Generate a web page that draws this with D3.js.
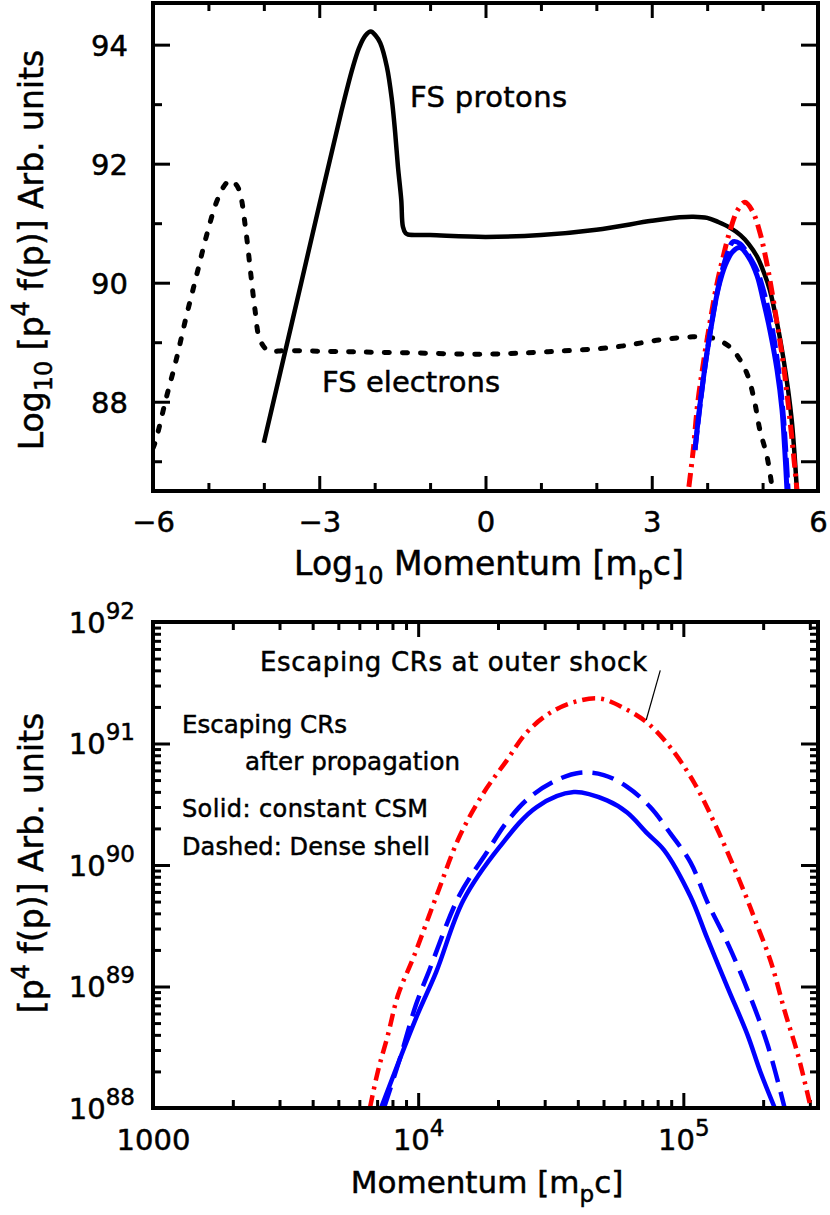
<!DOCTYPE html>
<html lang="en">
<head>
<meta charset="UTF-8">
<title>Escaping CR spectra</title>
<script src="https://d3js.org/d3.v7.min.js"></script>
<style>
  body { margin: 0; background: #fff; }
  svg { display: block; font-family: "DejaVu Sans", sans-serif; }
  svg text { stroke: #000; stroke-width: 0.5px; fill: #000; }
  .tick line { stroke: #000; stroke-width: 3px; }
  .frame { fill: none; stroke: #000; stroke-width: 4px; }
</style>
</head>
<body>
<svg width="830" height="1215"></svg>
<script>
// ---------- top panel: log10 p^4 f(p) against log10 p ----------
const protonLogP = [-4.0, -3.5, -3.0, -2.6, -2.4, -2.28, -2.17, -2.07, -1.98, -1.9, -1.78, -1.69, -1.63, -1.58, -1.52, -1.49, -1.44, -1.4,
  -1.0, 0.0, 1.0, 2.0, 3.0, 3.5, 3.75, 4.0, 4.2, 4.4, 4.6, 4.75, 4.9, 5.02, 5.13, 5.26, 5.37, 5.46, 5.53, 5.58, 5.62];
const protonLogF = [87.31, 89.3, 91.3, 92.88, 93.6, 93.95, 94.15, 94.22, 94.15, 94.03, 93.63, 93.08, 92.52, 91.95, 91.39, 90.94, 90.83, 90.81,
  90.8, 90.77, 90.8, 90.89, 91.04, 91.1, 91.11, 91.09, 91.02, 90.93, 90.8, 90.65, 90.44, 90.18, 89.88, 89.33, 88.76, 88.2, 87.65, 87.07, 86.5];

const electronLogP = [-6.0, -5.95, -5.77, -5.58, -5.4, -5.22, -5.04, -4.86, -4.72, -4.61, -4.5, -4.43, -4.32, -4.23, -4.16, -4.07, -3.92, -3.6,
  -2.5, -1.3, 0.0, 1.13, 2.34, 3.15, 3.74, 4.1, 4.41, 4.59, 4.74, 4.86, 4.95, 5.08, 5.17];
const electronLogF = [87.22, 87.35, 88.03, 88.71, 89.43, 90.1, 90.77, 91.34, 91.62, 91.72, 91.65, 91.51, 90.84, 90.1, 89.55, 89.04, 88.86, 88.86,
  88.84, 88.82, 88.8, 88.84, 88.92, 89.04, 89.09, 89.07, 88.92, 88.71, 88.42, 87.98, 87.53, 87.08, 86.57];

const escTopLogP = [3.67, 3.75, 3.83, 3.94, 4.05, 4.17, 4.29, 4.42, 4.55, 4.68, 4.82, 4.95, 5.05, 5.15, 5.26, 5.37, 5.46, 5.55, 5.62];
const escTopLogF = [86.57, 87.2, 87.98, 88.7, 89.33, 89.95, 90.44, 90.9, 91.22, 91.35, 91.2, 90.85, 90.45, 89.95, 89.33, 88.66, 87.98, 87.19, 86.52];

const propCsmTopLogP = [3.78, 3.87, 3.97, 4.08, 4.2, 4.33, 4.46, 4.59, 4.74, 4.9, 5.01, 5.13, 5.26, 5.35, 5.4, 5.44];
const propCsmTopLogF = [87.19, 87.95, 88.65, 89.3, 89.9, 90.3, 90.52, 90.59, 90.44, 90.12, 89.71, 89.21, 88.54, 87.87, 87.19, 86.52];

const propShellTopLogP = [3.78, 3.88, 3.98, 4.1, 4.23, 4.35, 4.47, 4.6, 4.72, 4.9, 5.05, 5.18, 5.3, 5.38, 5.43, 5.46];
const propShellTopLogF = [87.19, 88.0, 88.72, 89.43, 90.05, 90.45, 90.69, 90.65, 90.5, 90.2, 89.75, 89.2, 88.45, 87.7, 87.0, 86.52];

// ---------- bottom panel: p^4 f(p) against p ----------
const escP = [6577, 7047, 7691, 8395, 9661, 11700, 14290, 17620, 21530, 25640, 31330, 38640, 48530, 59840, 73110, 89330,
  110200, 134600, 170200, 185800, 213800, 241500, 270400, 302700];
const escF = [1.0e88, 2.0e88, 4.0e88, 8.5e88, 1.8e89, 5.5e89, 1.7e90, 3.9e90, 7.2e90, 1.23e91, 1.78e91, 2.19e91, 2.34e91, 1.95e91, 1.48e91, 9.3e90,
  4.7e90, 1.95e90, 5.9e89, 3.6e89, 1.6e89, 6.2e88, 2.75e88, 1.0e88];

const shellP = [7430, 8511, 9817, 10960, 14290, 18110, 21530, 26300, 33340, 40740, 50120, 61380, 75000, 89330, 106400, 123000, 147900, 177800, 208000, 241000];
const shellF = [1.0e88, 2.5e88, 7.1e88, 1.32e89, 5.6e89, 1.26e90, 2.24e90, 3.6e90, 5.0e90, 5.75e90, 5.5e90, 4.4e90, 3.0e90, 1.82e90, 1.05e90, 5.0e89, 2.2e89, 8.5e88, 3.3e88, 1.0e88];

const csmP = [7244, 9817, 11700, 14790, 20280, 27990, 38640, 51520, 61380, 73110, 84720, 106400, 123000, 146900, 174600, 195000, 221300];
const csmF = [1.0e88, 5.5e88, 1.32e89, 5.1e89, 1.41e90, 3.0e90, 3.98e90, 3.4e90, 2.7e90, 1.82e90, 1.32e90, 5.5e89, 2.5e89, 9.8e88, 4.0e88, 2.0e88, 1.0e88];

const pointerP = [81850, 72440];
const pointerF = [4.0e91, 1.56e91];

const topXMajor = [-6, -3, 0, 3, 6];
const topXMinor = [-5, -4, -2, -1, 1, 2, 4, 5];
const topYMajor = [88, 90, 92, 94];
const topYMinor = [87, 89, 91, 93];
const botXMajor = [1e3, 1e4, 1e5];
const botXMinor = [2e3, 3e3, 4e3, 5e3, 6e3, 7e3, 8e3, 9e3, 2e4, 3e4, 4e4, 5e4, 6e4, 7e4, 8e4, 9e4, 2e5, 3e5];
const botYMajor = [1e88, 1e89, 1e90, 1e91, 1e92];
const botYMinor = [];
[88, 89, 90, 91].forEach(e => { for (let k = 2; k <= 9; k++) botYMinor.push(+(k + "e" + e)); });

const svg = d3.select("svg");

// ================= top panel =================
const xT = d3.scaleLinear([-6, 6], [153, 818]);
const yT = d3.scaleLinear([86.5, 94.7], [491, 3]);

const minus = d => d < 0 ? "\u2212" + Math.abs(d) : String(d);

function cleanAxis(g) { g.select(".domain").remove(); }

// bottom x axis
svg.append("g").attr("transform", "translate(0,491)")
  .call(d3.axisBottom(xT).tickValues(topXMajor).tickSize(-15).tickPadding(0).tickFormat(minus))
  .call(cleanAxis)
  .call(g => g.selectAll("text").attr("y", 41).attr("dy", null).attr("font-size", 29).attr("font-family", "DejaVu Sans"));
svg.append("g").attr("transform", "translate(0,491)")
  .call(d3.axisBottom(xT).tickValues(topXMinor).tickSize(-8).tickFormat(""))
  .call(cleanAxis);
// top x axis
svg.append("g").attr("transform", "translate(0,3)")
  .call(d3.axisTop(xT).tickValues(topXMajor).tickSize(-15).tickFormat(""))
  .call(cleanAxis);
svg.append("g").attr("transform", "translate(0,3)")
  .call(d3.axisTop(xT).tickValues(topXMinor).tickSize(-8).tickFormat(""))
  .call(cleanAxis);
// left y axis
svg.append("g").attr("transform", "translate(153,0)")
  .call(d3.axisLeft(yT).tickValues(topYMajor).tickSize(-17).tickPadding(25).tickFormat(d => d))
  .call(cleanAxis)
  .call(g => g.selectAll("text").attr("font-size", 29).attr("font-family", "DejaVu Sans").attr("dy", "0.36em"));
svg.append("g").attr("transform", "translate(153,0)")
  .call(d3.axisLeft(yT).tickValues(topYMinor).tickSize(-9).tickFormat(""))
  .call(cleanAxis);
// right y axis
svg.append("g").attr("transform", "translate(818,0)")
  .call(d3.axisRight(yT).tickValues(topYMajor.concat(topYMinor)).tickSize(-17).tickFormat(""))
  .call(cleanAxis);

svg.append("clipPath").attr("id", "clipTop")
  .append("rect").attr("x", 153).attr("y", 3).attr("width", 665).attr("height", 488);

const lineT = d3.line().x(d => xT(d[0])).y(d => yT(d[1])).curve(d3.curveCatmullRom.alpha(0.5));
const gT = svg.append("g").attr("clip-path", "url(#clipTop)").attr("fill", "none");

gT.append("path").attr("d", lineT(d3.zip(electronLogP, electronLogF)))
  .attr("stroke", "#000").attr("stroke-width", 5).attr("stroke-linecap", "round").attr("stroke-dasharray", "5 13");
gT.append("path").attr("d", lineT(d3.zip(protonLogP, protonLogF)))
  .attr("stroke", "#000").attr("stroke-width", 4.5).attr("stroke-linejoin", "round");
gT.append("path").attr("d", lineT(d3.zip(escTopLogP, escTopLogF)))
  .attr("stroke", "#ff0000").attr("stroke-width", 5).attr("stroke-dasharray", "14 6 3 6");
gT.append("path").attr("d", lineT(d3.zip(propShellTopLogP, propShellTopLogF)))
  .attr("stroke", "#0000ff").attr("stroke-width", 5).attr("stroke-dasharray", "20 6");
gT.append("path").attr("d", lineT(d3.zip(propCsmTopLogP, propCsmTopLogF)))
  .attr("stroke", "#0000ff").attr("stroke-width", 5);

svg.append("rect").attr("class", "frame").attr("x", 153).attr("y", 3).attr("width", 665).attr("height", 488);

svg.append("text").attr("x", 410).attr("y", 107).attr("font-size", 29).attr("textLength", 157).text("FS protons");
svg.append("text").attr("x", 322).attr("y", 392).attr("font-size", 29).attr("textLength", 178).text("FS electrons");

// axis titles with sub/superscripts
function subText(sel, parts) {
  parts.forEach(p => {
    const t = sel.append("tspan").text(p.t);
    if (p.dy) t.attr("dy", p.dy);
    if (p.fs) t.attr("font-size", p.fs);
  });
  return sel;
}

subText(svg.append("text").attr("x", 489).attr("y", 575).attr("text-anchor", "middle").attr("font-size", 33),
  [{ t: "Log" }, { t: "10", dy: 9, fs: 24 }, { t: " Momentum [m", dy: -9 }, { t: "p", dy: 9, fs: 24 }, { t: "c]", dy: -9 }]);

subText(svg.append("text").attr("transform", "translate(43,250) rotate(-90)").attr("text-anchor", "middle").attr("font-size", 33),
  [{ t: "Log" }, { t: "10", dy: 9, fs: 24 }, { t: " [p", dy: -9 }, { t: "4", dy: -14, fs: 24 }, { t: " f(p)] Arb. units", dy: 14 }]);

// ================= bottom panel =================
const xB = d3.scaleLog([1000, 3.22e5], [153, 818]);
const yB = d3.scaleLog([1e88, 1e92], [1108, 622]);

function powLabel(g) {
  g.selectAll(".tick text").each(function (d) {
    const t = d3.select(this).text(null).attr("font-size", 29).attr("font-family", "DejaVu Sans");
    if (d === 1000) { t.text("1000"); return; }
    const e = Math.round(Math.log10(d));
    t.append("tspan").text("10");
    t.append("tspan").attr("dy", -14).attr("font-size", 23).text(e);
  });
}

svg.append("g").attr("transform", "translate(0,1108)")
  .call(d3.axisBottom(xB).tickValues(botXMajor).tickSize(-15).tickPadding(0))
  .call(cleanAxis)
  .call(powLabel)
  .call(g => g.selectAll(".tick text").attr("y", 42).attr("dy", null));
svg.append("g").attr("transform", "translate(0,1108)")
  .call(d3.axisBottom(xB).tickValues(botXMinor).tickSize(-8).tickFormat(""))
  .call(cleanAxis);
svg.append("g").attr("transform", "translate(0,622)")
  .call(d3.axisTop(xB).tickValues(botXMajor).tickSize(-15).tickFormat(""))
  .call(cleanAxis);
svg.append("g").attr("transform", "translate(0,622)")
  .call(d3.axisTop(xB).tickValues(botXMinor).tickSize(-8).tickFormat(""))
  .call(cleanAxis);
svg.append("g").attr("transform", "translate(153,0)")
  .call(d3.axisLeft(yB).tickValues(botYMajor).tickSize(-17).tickPadding(18))
  .call(cleanAxis)
  .call(powLabel)
  .call(g => g.selectAll(".tick text").attr("dy", "0.36em"));
svg.append("g").attr("transform", "translate(153,0)")
  .call(d3.axisLeft(yB).tickValues(botYMinor).tickSize(-8).tickFormat(""))
  .call(cleanAxis);
svg.append("g").attr("transform", "translate(818,0)")
  .call(d3.axisRight(yB).tickValues(botYMajor).tickSize(-17).tickFormat(""))
  .call(cleanAxis);
svg.append("g").attr("transform", "translate(818,0)")
  .call(d3.axisRight(yB).tickValues(botYMinor).tickSize(-8).tickFormat(""))
  .call(cleanAxis);

svg.append("clipPath").attr("id", "clipBot")
  .append("rect").attr("x", 153).attr("y", 622).attr("width", 665).attr("height", 486);

const lineB = d3.line().x(d => xB(d[0])).y(d => yB(d[1])).curve(d3.curveCatmullRom.alpha(0.5));
const gB = svg.append("g").attr("clip-path", "url(#clipBot)").attr("fill", "none");

gB.append("path").attr("d", lineB(d3.zip(escP, escF)))
  .attr("stroke", "#ff0000").attr("stroke-width", 4.5).attr("stroke-dasharray", "13 6 3 6");
gB.append("path").attr("d", lineB(d3.zip(shellP, shellF)))
  .attr("stroke", "#0000ff").attr("stroke-width", 4.5).attr("stroke-dasharray", "22 10");
gB.append("path").attr("d", lineB(d3.zip(csmP, csmF)))
  .attr("stroke", "#0000ff").attr("stroke-width", 4.5).attr("stroke-linejoin", "round");
gB.append("path").attr("d", d3.line().x(d => xB(d[0])).y(d => yB(d[1]))(d3.zip(pointerP, pointerF)))
  .attr("stroke", "#000").attr("stroke-width", 1.2);

svg.append("rect").attr("class", "frame").attr("x", 153).attr("y", 622).attr("width", 665).attr("height", 486);

const notes = [
  { t: "Escaping CRs at outer shock", x: 260, y: 671, w: 387, fs: 26 },
  { t: "Escaping CRs", x: 182, y: 733, w: 165, fs: 24.5 },
  { t: "after propagation", x: 245, y: 770, w: 215, fs: 24.5 },
  { t: "Solid: constant CSM", x: 182, y: 817, w: 246, fs: 24 },
  { t: "Dashed: Dense shell", x: 182, y: 855, w: 248, fs: 24 }
];
svg.selectAll("text.note").data(notes).join("text").attr("class", "note")
  .attr("x", d => d.x).attr("y", d => d.y).attr("font-size", d => d.fs)
  .attr("textLength", d => d.w).text(d => d.t);

subText(svg.append("text").attr("x", 487).attr("y", 1193).attr("text-anchor", "middle").attr("font-size", 31),
  [{ t: "Momentum [m" }, { t: "p", dy: 9, fs: 23 }, { t: "c]", dy: -9 }]);

subText(svg.append("text").attr("transform", "translate(43,863) rotate(-90)").attr("text-anchor", "middle").attr("font-size", 33),
  [{ t: "[p" }, { t: "4", dy: -14, fs: 24 }, { t: " f(p)] Arb. units", dy: 14 }]);
</script>
</body>
</html>
